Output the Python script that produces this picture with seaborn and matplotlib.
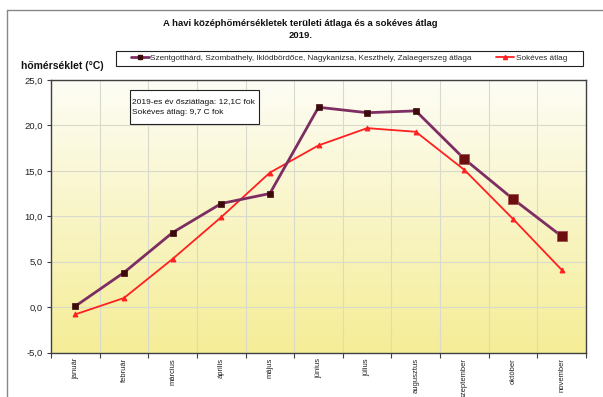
import numpy as np
import pandas as pd
import matplotlib
matplotlib.use("Agg")
import matplotlib.pyplot as plt
from matplotlib.lines import Line2D
from matplotlib.patches import Rectangle
import seaborn as sns

# Monthly mean temperatures, 2019 (Jan-Nov)
months = ["január", "február", "március", "április", "május", "június",
          "július", "augusztus", "szeptember", "október", "november"]
regional_2019 = [0.1, 3.8, 8.2, 11.4, 12.5, 22.0, 21.4, 21.6, 16.3, 11.9, 7.8]
long_term = [-0.8, 1.0, 5.3, 9.9, 14.8, 17.8, 19.7, 19.3, 15.1, 9.7, 4.1]

label_regional = ("Szentgotthárd, Szombathely, Iklódbördőce, Nagykanizsa, "
                  "Keszthely, Zalaegerszeg átlaga")
label_long = "Sokéves átlag"
title = "A havi középhőmérsékletek területi átlaga és a sokéves átlag\n2019."
ylabel = "hőmérséklet (°C)"
note = "2019-es év ősziátlaga: 12,1C fok\nSokéves átlag: 9,7 C fok"
yticks = [-5, 0, 5, 10, 15, 20, 25]

sns.set_theme(style="white")
plt.rcParams["font.family"] = ["Liberation Sans", "DejaVu Sans"]

df = pd.DataFrame({"month": months, "regional": regional_2019, "long": long_term})

W, H = 603, 397
fig = plt.figure(figsize=(W / 100, H / 100), dpi=100)
fig.patch.set_facecolor("white")

def fx(px):
    return px / W

def fy(py):
    return 1 - py / H

left, right, top, bottom = 51, 586, 80, 352.5
ax = fig.add_axes([fx(left), fy(bottom), fx(right) - fx(left), fy(top) - fy(bottom)])

# white-to-yellow gradient plot background
grad = np.linspace(0, 1, 256).reshape(-1, 1)
top_c = np.array([253, 253, 246]) / 255
bot_c = np.array([245, 237, 150]) / 255
img = top_c[None, None, :] * (1 - grad[:, :, None]) + bot_c[None, None, :] * grad[:, :, None]
ax.imshow(img, extent=[-0.5, 10.5, -5, 25], aspect="auto", zorder=0, origin="upper")

line_purple = "#7d2d62"

# long-term average
sns.lineplot(data=df, x="month", y="long", sort=False, ax=ax, color="#ff2020",
             linewidth=1.3, marker="^", markersize=3.5, markeredgecolor="#ff2020",
             zorder=3, legend=False)
# 2019 regional average
sns.lineplot(data=df, x="month", y="regional", sort=False, ax=ax, color=line_purple,
             linewidth=2.0, zorder=4, legend=False)
sns.scatterplot(data=df.iloc[:8], x="month", y="regional", ax=ax, marker="s",
                s=16, color="#3d0a0a", edgecolor="#3d0a0a", linewidth=0.5, zorder=5)
sns.scatterplot(data=df.iloc[8:], x="month", y="regional", ax=ax, marker="s",
                s=55, color="#6e0f0f", edgecolor="#a05050", linewidth=0.6, zorder=5)

ax.set_xlim(-0.5, 10.5)
ax.set_ylim(-5, 25)
ax.set_xlabel("")
ax.set_ylabel("")

# grid on category boundaries and y majors
ax.set_xticks(range(len(months)))
ax.set_xticklabels(months, rotation=90, fontsize=5.5, color="#222222")
ax.set_xticks(np.arange(-0.5, len(months), 1.0), minor=True)
ax.tick_params(axis="x", which="major", length=0, pad=4)
ax.tick_params(axis="x", which="minor", length=3.5, width=0.8, color="#404040",
               direction="out", bottom=True)
ax.set_yticks(yticks)
ax.set_yticklabels([f"{v:.1f}".replace(".", ",") for v in yticks], fontsize=6.8,
                   color="#222222")
ax.tick_params(axis="y", length=3, width=0.8, color="#404040", direction="out",
               left=True, pad=3)
ax.grid(False)
for v in yticks:
    ax.axhline(v, color="#d9d9cc", linewidth=0.8, zorder=1)
for b in np.arange(0.5, len(months) - 1, 1.0):
    ax.axvline(b, color="#d9d9cc", linewidth=0.8, zorder=1)
for s in ax.spines.values():
    s.set_visible(True)
    s.set_color("#404040")
    s.set_linewidth(1.0)

# legend across the top
handles = [Line2D([], [], color=line_purple, lw=2.0, marker="s", markersize=3,
                  markerfacecolor="#3d0a0a", markeredgecolor="#3d0a0a"),
           Line2D([], [], color="#ff2020", lw=1.3, marker="^", markersize=3,
                  markerfacecolor="#ff2020", markeredgecolor="#ff2020")]
fig.add_artist(Rectangle((fx(116), fy(65.5)), fx(583) - fx(116), fy(50.5) - fy(65.5),
                         transform=fig.transFigure, facecolor="white",
                         edgecolor="#222222", linewidth=0.8, zorder=2))
fig.legend(handles, [label_regional, label_long], ncol=2,
           loc="center left", bbox_to_anchor=(fx(131), fy(58)),
           fontsize=5.9, frameon=False, handlelength=2.2, handletextpad=0.15,
           columnspacing=3.0, borderpad=0, borderaxespad=0)

# annotation box
fig.add_artist(Rectangle((fx(129.5), fy(124)), fx(258.5) - fx(129.5), fy(89.5) - fy(124),
                         transform=fig.transFigure, facecolor="white",
                         edgecolor="#222222", linewidth=0.8, zorder=2))
fig.text(fx(132), fy(102.5), note.split("\n")[0], fontsize=6.0, ha="left",
         va="center", color="#111111", zorder=3)
fig.text(fx(132), fy(112.5), note.split("\n")[1], fontsize=6.0, ha="left",
         va="center", color="#111111", zorder=3)

fig.text(fx(300.5), fy(29.5), title, ha="center", va="center", fontsize=6.8,
         fontweight="bold", linespacing=1.45, color="#111111")
fig.text(fx(104), fy(66), ylabel, ha="right", va="center", fontsize=7.5,
         fontweight="bold", color="#111111")

# outer frame
fig.add_artist(Line2D([fx(7), 1.0], [fy(10), fy(10)], color="#888888", lw=1.0,
                      transform=fig.transFigure))
fig.add_artist(Line2D([fx(7), fx(7)], [fy(10), 0.0], color="#888888", lw=1.0,
                      transform=fig.transFigure))

fig.savefig("out.png", dpi=100)
